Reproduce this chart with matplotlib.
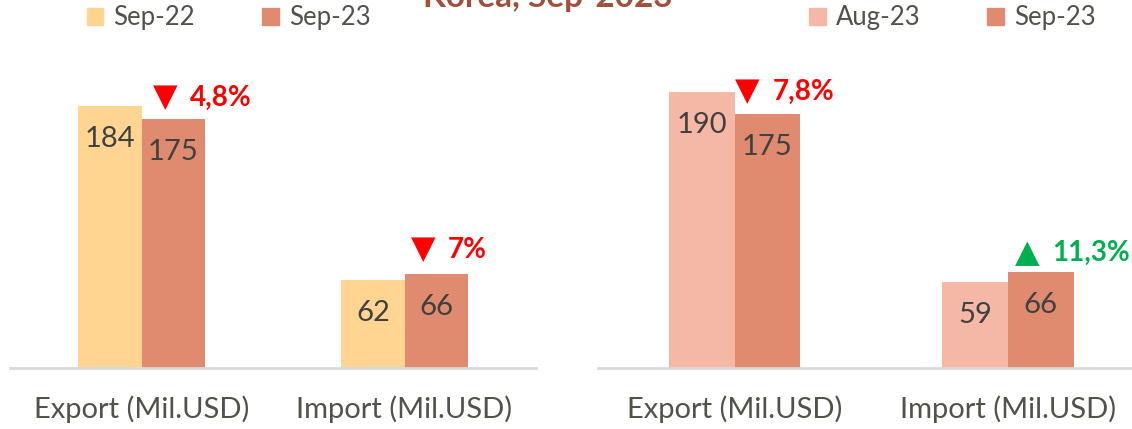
import numpy as np
import matplotlib.pyplot as plt
from matplotlib.patches import Patch

plt.rcParams['font.family'] = ['Lato', 'DejaVu Sans']

categories = ['Export (Mil.USD)', 'Import (Mil.USD)']

# left panel: same month, year on year
yoy_names = ['Sep-22', 'Sep-23']
yoy_prev = [184, 62]
yoy_curr = [175, 66]
yoy_change = ['4,8%', '7%']
yoy_up = [False, False]

# right panel: month on month
mom_names = ['Aug-23', 'Sep-23']
mom_prev = [190, 59]
mom_curr = [175, 66]
mom_change = ['7,8%', '11,3%']
mom_up = [False, True]

title = 'Korea, Sep-2023'

c_sep22 = '#FFD591'
c_sep23 = '#E08B6F'
c_aug23 = '#F5B8A6'
txt_gray = '#404040'
leg_gray = '#51524A'

W, H = 1132, 429
fig = plt.figure(figsize=(W / 100, H / 100), dpi=100)


def panel(rect, prev, curr, names, colors, change, up, top, shifts):
    ax = fig.add_axes(rect)
    x = np.arange(len(categories))
    w = 0.24
    b1 = ax.bar(x - w / 2, prev, w, color=colors[0])
    b2 = ax.bar(x + w / 2, curr, w, color=colors[1])
    for bars in (b1, b2):
        for r in bars:
            ax.annotate(str(int(r.get_height())),
                        (r.get_x() + r.get_width() / 2, r.get_height()),
                        xytext=(0, -33), textcoords='offset pixels',
                        ha='center', va='center', fontsize=21, color=txt_gray)
    for r, ch, u, (dx, dy) in zip(b2, change, up, shifts):
        sym = '\u25B2' if u else '\u25BC'
        col = '#00B050' if u else '#FF0000'
        xy = (r.get_x() + r.get_width() / 2, r.get_height())
        ax.annotate(sym, xy, xytext=(dx - 2, dy), textcoords='offset pixels',
                    ha='left', va='center', fontsize=23, color=col,
                    family='DejaVu Sans')
        ax.annotate(ch, xy, xytext=(dx + 35, dy), textcoords='offset pixels',
                    ha='left', va='center', fontsize=20, fontweight='bold',
                    color=col)
    ax.axhline(0, color='#D9D9D9', lw=2, clip_on=False)
    ax.set_xlim(-0.5, 1.5)
    ax.set_ylim(0, top)
    ax.set_yticks([])
    ax.set_xticks(x)
    ax.set_xticklabels(categories, fontsize=21, color=leg_gray)
    ax.tick_params(axis='x', length=0, pad=20)
    for s in ax.spines.values():
        s.set_visible(False)
    ax.patch.set_alpha(0)
    return ax


panel([10 / W, 61 / H, 526 / W, 368 / H], yoy_prev, yoy_curr, yoy_names,
      [c_sep22, c_sep23], yoy_change, yoy_up, 368 / 1.424,
      [(-18, 21), (-23, 24)])
panel([597.75 / W, 61 / H, 547 / W, 368 / H], mom_prev, mom_curr, mom_names,
      [c_aug23, c_sep23], mom_change, mom_up, 368 / 1.453,
      [(-30, 22), (-24, 19)])

for names, cols, cx in [(yoy_names, [c_sep22, c_sep23], 228.5),
                        (mom_names, [c_aug23, c_sep23], 952.5)]:
    handles = [Patch(color=c, label=n) for n, c in zip(names, cols)]
    leg = fig.legend(handles=handles, loc='center', ncol=2, frameon=False,
                     bbox_to_anchor=(cx / W, 1 - 18 / H), fontsize=18.5,
                     handlelength=0.65, handleheight=0.65, handletextpad=0.4,
                     columnspacing=2.6, borderpad=0)
    for t in leg.get_texts():
        t.set_color(leg_gray)

fig.text(548 / W, 1 - 7 / H, title, ha='center', va='baseline',
         fontsize=24, fontweight='bold', color='#A0503C')

fig.savefig('out.png', dpi=100)
